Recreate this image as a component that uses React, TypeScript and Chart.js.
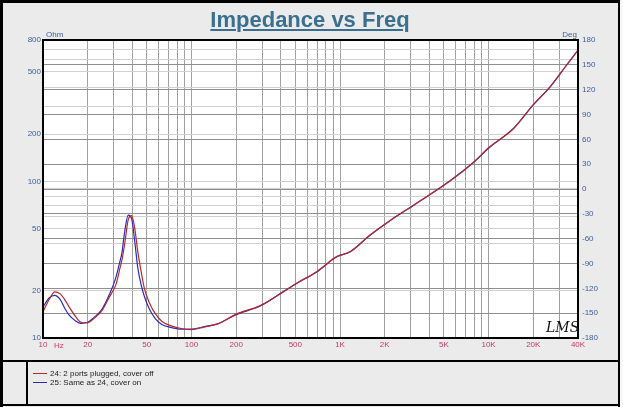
import { useEffect, useRef } from 'react';
import { Chart, registerables } from 'chart.js';
Chart.register(...registerables);

const seriesNames = ['24: 2 ports plugged, cover off', '25: Same as 24, cover on'];
const seriesColors = ['#b42a2a', '#2a2ab8'];

const freq = [10, 11, 12, 13, 14, 15, 16.5, 18, 20, 22, 25, 28, 31, 33, 34, 35.5, 37.5, 39.5, 41.5, 43.5, 46, 48, 52, 57, 63, 72, 85, 100, 120, 150, 200, 290, 415, 510, 700, 950, 1170, 1600, 2200, 3100, 5500, 7900, 10000, 14700, 20000, 26000, 33600, 40000];

const ohmOff = [14.7, 17.6, 19.7, 19.2, 17.6, 15.8, 13.8, 12.6, 12.5, 13.3, 15.0, 18.3, 22, 28, 31.5, 40, 57, 60.5, 50, 35.5, 26, 21, 16.8, 14.3, 12.8, 12.0, 11.5, 11.3, 11.7, 12.3, 14.2, 16.1, 19.7, 22.4, 26.6, 33.1, 35.5, 45.6, 56.6, 70.2, 100.5, 132, 164, 217, 309, 402, 556, 688];

const ohmOn = [15.8, 18.0, 18.7, 17.7, 15.5, 14.0, 12.9, 12.4, 12.6, 13.5, 15.3, 19.0, 24.5, 31, 35, 48, 61, 58, 41, 28, 21.5, 18.6, 15.3, 13.3, 12.2, 11.7, 11.4, 11.4, 11.8, 12.3, 14.1, 16.0, 19.8, 22.3, 26.5, 33.0, 35.6, 45.5, 56.7, 70, 101, 132, 163, 218, 308, 403, 554, 690];

const xTickValues = [10, 20, 50, 100, 200, 500, 1000, 2000, 5000, 10000, 20000, 40000];
const xTickText = ['10', '20', '50', '100', '200', '500', '1K', '2K', '5K', '10K', '20K', '40K'];
const ohmTickValues = [10, 20, 50, 100, 200, 500, 800];

const FONT = 'Liberation Sans, Arial, sans-serif';
const BLUE_TXT = '#3d5c9c';
const RED_TXT = '#c23a6a';

function logGrid(lo: number, hi: number) {
  const out: number[] = [];
  for (let d = 1; d <= hi; d *= 10) {
    for (let m = 1; m <= 9; m++) {
      const v = m * d;
      if (v >= lo && v <= hi) out.push(v);
    }
  }
  if (out[out.length - 1] !== hi) out.push(hi);
  return out;
}

const framePlugin = {
  id: 'frame',
  beforeDraw(chart: any) {
    const { ctx, chartArea: a } = chart;
    ctx.save();
    ctx.fillStyle = '#ffffff';
    ctx.fillRect(a.left, a.top, a.right - a.left, a.bottom - a.top);
    ctx.restore();
  },
  afterDraw(chart: any) {
    const { ctx, chartArea: a } = chart;
    ctx.save();
    ctx.strokeStyle = '#000';
    ctx.lineWidth = 2;
    ctx.strokeRect(a.left, a.top, a.right - a.left, a.bottom - a.top);
    ctx.font = '8px ' + FONT;
    ctx.textBaseline = 'alphabetic';
    ctx.fillStyle = BLUE_TXT;
    ctx.textAlign = 'left';
    ctx.fillText('Ohm', a.left + 3, a.top - 3);
    ctx.textAlign = 'right';
    ctx.fillText('Deg', a.right - 1, a.top - 3);
    ctx.fillStyle = RED_TXT;
    ctx.textAlign = 'left';
    ctx.fillText('Hz', a.left + 11, a.bottom + 10);
    ctx.fillStyle = '#111';
    ctx.font = 'italic 14px DejaVu Serif, serif';
    ctx.fillText('LMS', a.right - 32, a.bottom - 6);
    ctx.restore();
  },
};

export default function App() {
  const ref = useRef<HTMLCanvasElement | null>(null);
  useEffect(() => {
    if (!ref.current) return;
    const chart = new Chart(ref.current, {
      type: 'line',
      data: {
        datasets: [ohmOff, ohmOn].map((vals, i) => ({
          label: seriesNames[i],
          data: freq.map((f, j) => ({ x: f, y: vals[j] })),
          borderColor: seriesColors[i],
          borderWidth: 1.2,
          pointRadius: 0,
          cubicInterpolationMode: 'monotone' as const,
          yAxisID: 'y',
        })),
      },
      options: {
        animation: false,
        responsive: false,
        layout: { padding: { left: 3, top: 40, right: 0, bottom: 0 } },
        plugins: { legend: { display: false }, tooltip: { enabled: false }, title: { display: false } },
        scales: {
          x: {
            type: 'logarithmic',
            min: 10,
            max: 40000,
            afterBuildTicks: (s: any) => { s.ticks = logGrid(10, 40000).map((v) => ({ value: v })); },
            afterFit: (s: any) => { s.height = 22; },
            ticks: {
              autoSkip: false,
              maxRotation: 0,
              padding: 2,
              color: RED_TXT,
              font: { family: FONT, size: 8 },
              callback: (v: any) => {
                const k = xTickValues.indexOf(Number(v));
                return k >= 0 ? xTickText[k] : '';
              },
            },
            grid: { color: '#a0a0a0', drawTicks: false, lineWidth: 1 },
            border: { display: false },
          },
          y: {
            type: 'logarithmic',
            position: 'left',
            min: 10,
            max: 800,
            afterBuildTicks: (s: any) => { s.ticks = logGrid(10, 800).map((v) => ({ value: v })); },
            afterFit: (s: any) => { s.width = 40; },
            ticks: {
              autoSkip: false,
              padding: 2,
              color: BLUE_TXT,
              font: { family: FONT, size: 8 },
              callback: (v: any) => (ohmTickValues.includes(Number(v)) ? String(v) : ''),
            },
            grid: { color: '#d0d0d0', drawTicks: false, lineWidth: 1 },
            border: { display: false },
          },
          y1: {
            type: 'linear',
            position: 'right',
            min: -180,
            max: 180,
            afterFit: (s: any) => { s.width = 42; },
            ticks: {
              stepSize: 30,
              padding: 4,
              color: BLUE_TXT,
              font: { family: FONT, size: 8 },
            },
            grid: { color: '#8e8e8e', drawTicks: false, lineWidth: 1 },
            border: { display: false },
          },
        },
      },
      plugins: [framePlugin],
    });
    return () => chart.destroy();
  }, []);

  const bar = (l: number, t: number, w: number, h: number) => (
    <div style={{ position: 'absolute', left: l, top: t, width: w, height: h, background: '#000' }} />
  );

  return (
    <div style={{ position: 'fixed', left: 0, top: 0, width: 623, height: 407, background: '#f7f7f7', overflow: 'hidden' }}>
      <div style={{ position: 'absolute', left: 0, top: 0, width: 620, height: 407, background: '#ebebeb' }} />
      <canvas ref={ref} width={620} height={360} style={{ position: 'absolute', left: 0, top: 0, width: 620, height: 360 }} />
      <div
        style={{
          position: 'absolute', left: 0, top: 9, width: 620, textAlign: 'center',
          font: 'bold 22px ' + FONT, lineHeight: '22px', color: '#3a6f8f',
          textDecoration: 'underline', textDecorationThickness: '2px', textUnderlineOffset: '2px',
        }}
      >
        Impedance vs Freq
      </div>
      {bar(0, 0, 620, 3)}
      {bar(0, 0, 3, 407)}
      {bar(618, 0, 2, 407)}
      {bar(0, 360, 620, 2)}
      {bar(0, 404, 620, 2)}
      {bar(26, 360, 2, 46)}
      {seriesNames.map((name, i) => (
        <div key={name} style={{ position: 'absolute', left: 33, top: 369 + i * 9, height: 9, display: 'flex', alignItems: 'center', font: '8px ' + FONT, color: '#222', whiteSpace: 'nowrap' }}>
          <span style={{ display: 'inline-block', width: 14, height: 1, background: seriesColors[i], marginRight: 3 }} />
          {name}
        </div>
      ))}
    </div>
  );
}
